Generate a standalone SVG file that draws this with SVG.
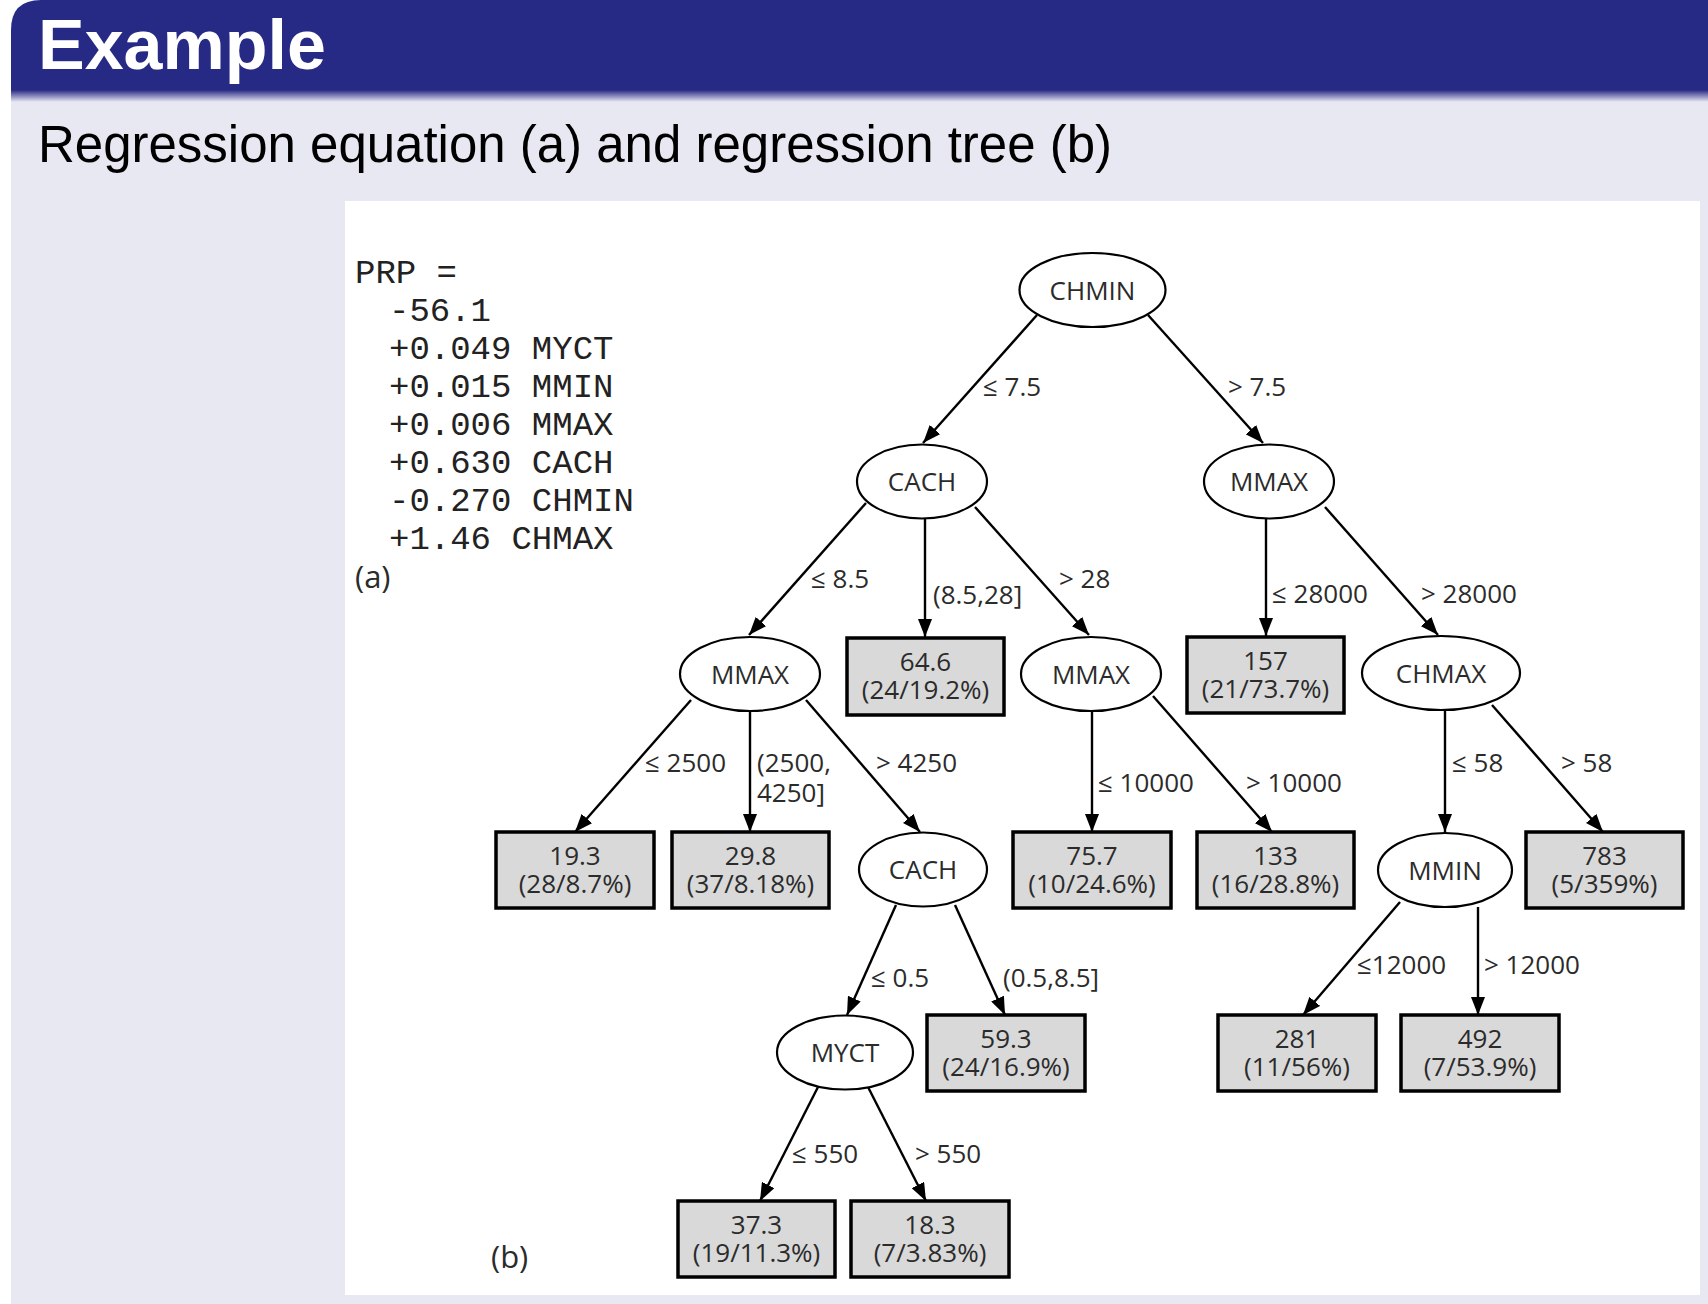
<svg xmlns="http://www.w3.org/2000/svg" width="1708" height="1304" viewBox="0 0 1708 1304">
  <defs>
    <linearGradient id="barShade" x1="0" y1="0" x2="0" y2="1">
      <stop offset="0" stop-color="#272a84"/>
      <stop offset="1" stop-color="#e8e8f2"/>
    </linearGradient>
    <marker id="arrow" markerUnits="userSpaceOnUse" markerWidth="18" markerHeight="14" refX="18" refY="7" orient="auto">
      <path d="M0,0 L18,7 L0,14 Z" fill="#000"/>
    </marker>
    <style>
      .title { font-family: "Liberation Sans", Arial, sans-serif; font-weight: bold; font-size: 70px; fill: #ffffff; }
      .sub { font-family: "Liberation Sans", Arial, sans-serif; font-size: 51px; fill: #000000; }
      .eq { font-family: "Liberation Mono", "Courier New", monospace; font-size: 34px; fill: #222222; }
      .t { font-family: "Open Sans", "Noto Sans", sans-serif; font-size: 26px; fill: #2b2b2b; }
      .tag { font-family: "Open Sans", "Noto Sans", sans-serif; font-size: 31px; fill: #2b2b2b; }
      .c { text-anchor: middle; }
      .node ellipse { fill: #ffffff; stroke: #000000; stroke-width: 2.2; }
      .leaf rect { fill: #d9d9d9; stroke: #000000; stroke-width: 3.5; }
      .edges line { stroke: #000000; stroke-width: 2.4; marker-end: url(#arrow); }
    </style>
  </defs>

  <!-- page background and frame -->
  <rect x="0" y="0" width="1708" height="1304" fill="#ffffff"/>
  <rect x="11" y="90" width="1697" height="1214" fill="#e8e8f2"/>
  <path d="M11,92 L11,30 Q11,0 41,0 L1708,0 L1708,92 Z" fill="#272a84"/>
  <rect x="11" y="90" width="1697" height="12" fill="url(#barShade)"/>
  <text class="title" x="38" y="69">Example</text>
  <text class="sub" x="38" y="162" textLength="1074" lengthAdjust="spacingAndGlyphs">Regression equation (a) and regression tree (b)</text>

  <!-- figure area -->
  <rect x="345" y="201" width="1355" height="1094" fill="#ffffff"/>

  <!-- (a) linear regression equation -->
  <g id="equation">
    <text class="eq" x="355" y="283">PRP =</text>
    <text class="eq" x="389" y="321">-56.1</text>
    <text class="eq" x="389" y="359">+0.049 MYCT</text>
    <text class="eq" x="389" y="397">+0.015 MMIN</text>
    <text class="eq" x="389" y="435">+0.006 MMAX</text>
    <text class="eq" x="389" y="473">+0.630 CACH</text>
    <text class="eq" x="389" y="511">-0.270 CHMIN</text>
    <text class="eq" x="389" y="549">+1.46 CHMAX</text>
    <text class="tag" x="355" y="588">(a)</text>
  </g>
  <text class="tag" x="491" y="1268">(b)</text>

  <!-- (b) regression tree: connectors -->
  <g class="edges" id="connectors">
    <line x1="1037" y1="315" x2="923" y2="443"/>
    <line x1="1148" y1="315" x2="1263" y2="443"/>
    <line x1="866" y1="503" x2="749" y2="635"/>
    <line x1="925" y1="519" x2="925" y2="637"/>
    <line x1="975" y1="507" x2="1089" y2="635"/>
    <line x1="1266" y1="519" x2="1266" y2="636"/>
    <line x1="1325" y1="507" x2="1438" y2="635"/>
    <line x1="691" y1="700" x2="575" y2="832"/>
    <line x1="750" y1="711" x2="750" y2="832"/>
    <line x1="806" y1="700" x2="920" y2="832"/>
    <line x1="1092" y1="710" x2="1092" y2="832"/>
    <line x1="1153" y1="696" x2="1272" y2="832"/>
    <line x1="1445" y1="710" x2="1445" y2="832"/>
    <line x1="1492" y1="705" x2="1603" y2="832"/>
    <line x1="896" y1="905" x2="847" y2="1015"/>
    <line x1="955" y1="905" x2="1005" y2="1015"/>
    <line x1="1400" y1="902" x2="1303" y2="1015"/>
    <line x1="1478" y1="907" x2="1478" y2="1015"/>
    <line x1="818" y1="1087" x2="760" y2="1201"/>
    <line x1="868" y1="1087" x2="926" y2="1201"/>
  </g>

  <!-- connector labels -->
  <g id="labels">
    <text class="t" x="983" y="396">≤ 7.5</text>
    <text class="t" x="1228" y="396">&gt; 7.5</text>
    <text class="t" x="811" y="588">≤ 8.5</text>
    <text class="t" x="933" y="604">(8.5,28]</text>
    <text class="t" x="1059" y="588">&gt; 28</text>
    <text class="t" x="1272" y="603">≤ 28000</text>
    <text class="t" x="1421" y="603">&gt; 28000</text>
    <text class="t" x="645" y="772">≤ 2500</text>
    <text class="t" x="757" y="772">(2500,<tspan x="757" dy="30">4250]</tspan></text>
    <text class="t" x="876" y="772">&gt; 4250</text>
    <text class="t" x="1098" y="792">≤ 10000</text>
    <text class="t" x="1246" y="792">&gt; 10000</text>
    <text class="t" x="1452" y="772">≤ 58</text>
    <text class="t" x="1561" y="772">&gt; 58</text>
    <text class="t" x="871" y="987">≤ 0.5</text>
    <text class="t" x="1003" y="987">(0.5,8.5]</text>
    <text class="t" x="1357" y="974">≤12000</text>
    <text class="t" x="1484" y="974">&gt; 12000</text>
    <text class="t" x="792" y="1163">≤ 550</text>
    <text class="t" x="915" y="1163">&gt; 550</text>
  </g>

  <!-- split nodes -->
  <g class="node" id="n-chmin"><ellipse cx="1092.5" cy="290" rx="73" ry="37"/><text class="t c" x="1092.5" y="299.5">CHMIN</text></g>
  <g class="node" id="n-cach"><ellipse cx="922" cy="481.5" rx="65" ry="37"/><text class="t c" x="922" y="491">CACH</text></g>
  <g class="node" id="n-mmax-r"><ellipse cx="1269" cy="481.5" rx="65" ry="37"/><text class="t c" x="1269" y="491">MMAX</text></g>
  <g class="node" id="n-mmax-l"><ellipse cx="750" cy="674" rx="70" ry="37"/><text class="t c" x="750" y="683.5">MMAX</text></g>
  <g class="node" id="n-mmax-m"><ellipse cx="1091" cy="674" rx="70" ry="37"/><text class="t c" x="1091" y="683.5">MMAX</text></g>
  <g class="node" id="n-chmax"><ellipse cx="1441" cy="673" rx="79" ry="37"/><text class="t c" x="1441" y="682.5">CHMAX</text></g>
  <g class="node" id="n-cach2"><ellipse cx="923" cy="869.5" rx="64" ry="37"/><text class="t c" x="923" y="879">CACH</text></g>
  <g class="node" id="n-mmin"><ellipse cx="1445" cy="870" rx="67" ry="37"/><text class="t c" x="1445" y="879.5">MMIN</text></g>
  <g class="node" id="n-myct"><ellipse cx="845" cy="1052.5" rx="68" ry="37"/><text class="t c" x="845" y="1062">MYCT</text></g>

  <!-- leaves: mean value over (count/relative error) -->
  <g class="leaf" id="l-64-6"><rect x="847" y="638" width="157" height="77"/><text class="t c" x="925.5" y="671">64.6<tspan x="925.5" dy="28">(24/19.2%)</tspan></text></g>
  <g class="leaf" id="l-157"><rect x="1187" y="637" width="157" height="76"/><text class="t c" x="1265.5" y="670">157<tspan x="1265.5" dy="28">(21/73.7%)</tspan></text></g>
  <g class="leaf" id="l-19-3"><rect x="496" y="832" width="158" height="76"/><text class="t c" x="575" y="865">19.3<tspan x="575" dy="28">(28/8.7%)</tspan></text></g>
  <g class="leaf" id="l-29-8"><rect x="672" y="832" width="157" height="76"/><text class="t c" x="750.5" y="865">29.8<tspan x="750.5" dy="28">(37/8.18%)</tspan></text></g>
  <g class="leaf" id="l-75-7"><rect x="1013" y="832" width="158" height="76"/><text class="t c" x="1092" y="865">75.7<tspan x="1092" dy="28">(10/24.6%)</tspan></text></g>
  <g class="leaf" id="l-133"><rect x="1197" y="832" width="157" height="76"/><text class="t c" x="1275.5" y="865">133<tspan x="1275.5" dy="28">(16/28.8%)</tspan></text></g>
  <g class="leaf" id="l-783"><rect x="1526" y="832" width="157" height="76"/><text class="t c" x="1604.5" y="865">783<tspan x="1604.5" dy="28">(5/359%)</tspan></text></g>
  <g class="leaf" id="l-59-3"><rect x="927" y="1015" width="158" height="76"/><text class="t c" x="1006" y="1048">59.3<tspan x="1006" dy="28">(24/16.9%)</tspan></text></g>
  <g class="leaf" id="l-281"><rect x="1218" y="1015" width="158" height="76"/><text class="t c" x="1297" y="1048">281<tspan x="1297" dy="28">(11/56%)</tspan></text></g>
  <g class="leaf" id="l-492"><rect x="1401" y="1015" width="158" height="76"/><text class="t c" x="1480" y="1048">492<tspan x="1480" dy="28">(7/53.9%)</tspan></text></g>
  <g class="leaf" id="l-37-3"><rect x="678" y="1201" width="157" height="76"/><text class="t c" x="756.5" y="1234">37.3<tspan x="756.5" dy="28">(19/11.3%)</tspan></text></g>
  <g class="leaf" id="l-18-3"><rect x="851" y="1201" width="158" height="76"/><text class="t c" x="930" y="1234">18.3<tspan x="930" dy="28">(7/3.83%)</tspan></text></g>
</svg>
